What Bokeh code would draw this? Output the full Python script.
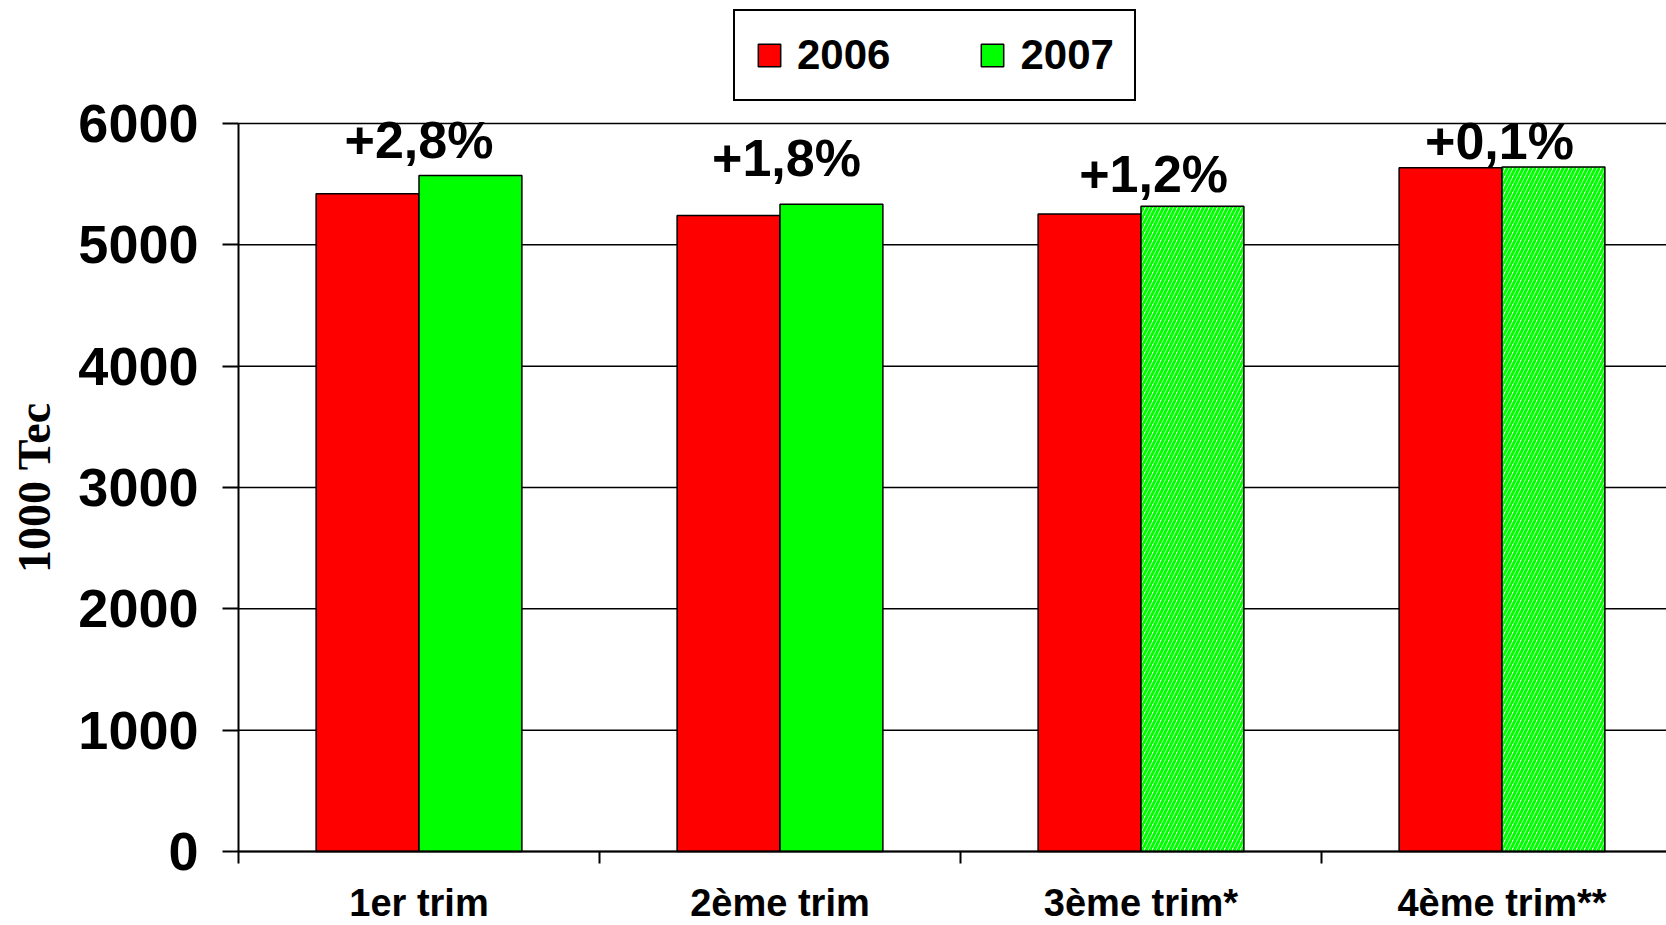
import math
from bokeh.plotting import figure
from bokeh.models import (Range1d, FixedTicker, Legend, LegendItem, ColumnDataSource,
                          Label)
from bokeh.core.properties import value
from bokeh.embed import file_html
from bokeh.resources import INLINE

# ---- data ----
quarters = ["1er trim", "2ème trim", "3ème trim*", "4ème trim**"]
v2006 = [5421, 5242, 5254, 5636]
v2007 = [5572, 5334, 5317, 5641]
estimated_2007 = [False, False, True, True]
changes = ["+2,8%", "+1,8%", "+1,2%", "+0,1%"]
change_label_x = [0.5, 1.518, 2.535, 3.493]
change_label_y = [5860, 5718, 5581, 5853]
y_ticks = [0, 1000, 2000, 3000, 4000, 5000, 6000]

RED = "#ff0000"
GREEN = "#00ff00"
FONT = "Liberation Sans"

W, H = 1666, 925
AXIS_X_PX = 238          # pixel position of the y axis
AXIS_Y_PX = 851          # pixel position of the x axis
AXIS_TOP_PX = 123        # where the 6000 gridline sits
CAT_PX = 361.0           # pixels per quarter
TITLE_X_PX = 34          # centre of the rotated y title
y_max = max(y_ticks)
px_per_unit = (AXIS_Y_PX - AXIS_TOP_PX) / y_max
x_start = -AXIS_X_PX / CAT_PX
x_end = (W - AXIS_X_PX) / CAT_PX
y_start = -(H - AXIS_Y_PX) / px_per_unit
y_end = AXIS_Y_PX / px_per_unit
n = len(quarters)

# the frame covers the whole figure; both axes sit at fixed data positions
p = figure(width=W, height=H, output_backend="svg", toolbar_location=None,
           x_range=Range1d(x_start, x_end), y_range=Range1d(y_start, y_end),
           min_border_left=0, min_border_top=0, min_border_right=0,
           min_border_bottom=0)
p.outline_line_color = None
p.background_fill_color = "white"
p.border_fill_color = "white"
p.xgrid.visible = False
p.ygrid.visible = False

# horizontal gridlines, from the y axis to the right edge
p.segment(x0=[0] * len(y_ticks), x1=[x_end] * len(y_ticks), y0=y_ticks, y1=y_ticks,
          line_color="black", line_width=1.5)

centers = [i + 0.5 for i in range(n)]
bw = 0.285
src06 = ColumnDataSource(dict(x=[c - bw / 2 for c in centers], top=v2006))
src07 = ColumnDataSource(dict(
    x=[c + bw / 2 for c in centers], top=v2007,
    fill=["white" if e else GREEN for e in estimated_2007],
    hatch=["/" if e else " " for e in estimated_2007]))

r1 = p.vbar(x="x", top="top", bottom=0, width=bw, source=src06,
            fill_color=RED, line_color="black", line_width=1.5)
r2 = p.vbar(x="x", top="top", bottom=0, width=bw, source=src07,
            fill_color="fill", hatch_pattern="hatch", hatch_color=GREEN,
            hatch_scale=8, hatch_weight=3.0,
            line_color="black", line_width=1.5)

p.text(x=change_label_x, y=change_label_y, text=changes,
       text_font=value(FONT), text_font_style="bold", text_font_size="52px",
       text_align="center", text_baseline="middle", text_color="black")

# x axis: labels at category centres, small ticks at category boundaries
xa = p.xaxis[0]
xa.fixed_location = 0
xa.bounds = (0, x_end)
xa.ticker = FixedTicker(ticks=centers, minor_ticks=list(range(n + 1)))
xa.major_label_overrides = {c: q for c, q in zip(centers, quarters)}
xa.major_tick_line_color = None
xa.major_tick_out = 0
xa.major_tick_in = 0
xa.minor_tick_out = 12
xa.minor_tick_in = 0
xa.minor_tick_line_color = "black"
xa.minor_tick_line_width = 2
xa.axis_line_color = "black"
xa.axis_line_width = 2
xa.major_label_text_font = FONT
xa.major_label_text_font_style = "bold"
xa.major_label_text_font_size = "38px"
xa.major_label_text_color = "black"
xa.major_label_standoff = 18

ya = p.yaxis[0]
ya.fixed_location = 0
ya.ticker = FixedTicker(ticks=y_ticks)
ya.bounds = (0, y_max)
ya.minor_tick_line_color = None
ya.major_tick_out = 16
ya.major_tick_in = 0
ya.major_tick_line_color = "black"
ya.major_tick_line_width = 2
ya.axis_line_color = "black"
ya.axis_line_width = 2
ya.major_label_text_font = FONT
ya.major_label_text_font_style = "bold"
ya.major_label_text_font_size = "54px"
ya.major_label_text_color = "black"
ya.major_label_standoff = 24

ytitle = Label(x=(TITLE_X_PX - AXIS_X_PX) / CAT_PX, y=y_max / 2, text="1000 Tec",
               angle=math.pi / 2, text_align="center", text_baseline="middle",
               text_font="Liberation Serif", text_font_style="bold",
               text_font_size="46px", text_color="black")
p.add_layout(ytitle)

legend = Legend(items=[LegendItem(label="2006", renderers=[r1], index=0),
                       LegendItem(label="2007", renderers=[r2], index=0)],
                orientation="horizontal", location=(733, 824),
                border_line_color="black", border_line_width=2,
                border_line_alpha=1.0,
                background_fill_color="white", background_fill_alpha=1.0,
                label_text_font=FONT, label_text_font_style="bold",
                label_text_font_size="42px", label_text_color="black",
                glyph_width=28, glyph_height=28, label_standoff=14,
                spacing=88, padding=20, margin=0)
p.add_layout(legend, "center")

open("out.html", "w").write(file_html(p, INLINE))
